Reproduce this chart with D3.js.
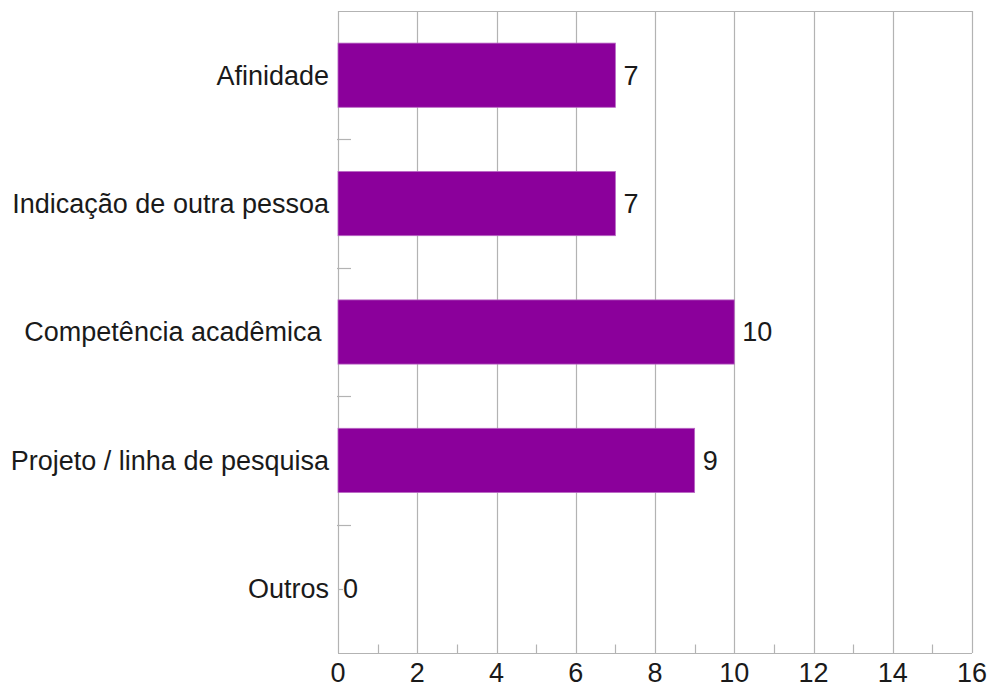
<!DOCTYPE html>
<html>
<head>
<meta charset="utf-8">
<script src="https://cdn.jsdelivr.net/npm/d3@7"></script>
<style>
  html, body { margin: 0; padding: 0; background: #fff; }
  svg { display: block; }
  text { font-family: "Liberation Sans", Arial, sans-serif; fill: #1a1a1a; white-space: pre; }
</style>
</head>
<body>
<svg id="chart" width="992" height="691"></svg>
<script>
// Motivos de escolha do orientador
const categories = ["Afinidade", "Indicação de outra pessoa", "Competência acadêmica ", "Projeto / linha de pesquisa", "Outros"];
const values = [7, 7, 10, 9, 0];
const xTicks = [0, 2, 4, 6, 8, 10, 12, 14, 16];
const xMinorTicks = [1, 3, 5, 7, 9, 11, 13, 15];

const svg = d3.select("#chart");
const margin = { left: 338, right: 20, top: 11, bottom: 38 };
const W = 992, H = 691;
const plotW = W - margin.left - margin.right;
const plotH = H - margin.top - margin.bottom;
const fontSize = 27;

const x = d3.scaleLinear().domain([0, 16]).range([margin.left, margin.left + plotW]);
const y = d3.scaleBand().domain(categories).range([margin.top, margin.top + plotH]).paddingInner(0.5).paddingOuter(0.25);
const yb = d3.scaleBand().domain(categories).range([margin.top, margin.top + plotH]);

const gridColor = "#b3b3b3";
const g = svg.append("g");

// vertical grid lines at the major ticks
g.selectAll("line.grid").data(xTicks).join("line")
  .attr("class", "grid")
  .attr("x1", d => Math.round(x(d)) + 0.5).attr("x2", d => Math.round(x(d)) + 0.5)
  .attr("y1", margin.top).attr("y2", margin.top + plotH)
  .attr("stroke", gridColor).attr("stroke-width", 1.2);

// top border
g.append("line")
  .attr("x1", x(0)).attr("x2", x(16))
  .attr("y1", margin.top + 0.5).attr("y2", margin.top + 0.5)
  .attr("stroke", gridColor).attr("stroke-width", 1.2);

// bottom axis line
const axisY = Math.round(margin.top + plotH) + 0.5;
g.append("line")
  .attr("x1", x(0)).attr("x2", x(16))
  .attr("y1", axisY).attr("y2", axisY)
  .attr("stroke", gridColor).attr("stroke-width", 1.2);

// minor ticks on the x axis, pointing inward
g.selectAll("line.minor").data(xMinorTicks).join("line")
  .attr("x1", d => Math.round(x(d)) + 0.5).attr("x2", d => Math.round(x(d)) + 0.5)
  .attr("y1", axisY - 9).attr("y2", axisY)
  .attr("stroke", gridColor).attr("stroke-width", 1.2);

// category separators on the y axis
const sep = categories.slice(1).map(c => yb(c));
g.selectAll("line.ytick").data(sep).join("line")
  .attr("x1", x(0) - 1).attr("x2", x(0) + 13)
  .attr("y1", d => Math.round(d) + 0.5).attr("y2", d => Math.round(d) + 0.5)
  .attr("stroke", gridColor).attr("stroke-width", 1.2);

// bars
g.selectAll("rect.bar").data(categories).join("rect")
  .attr("class", "bar")
  .attr("x", x(0))
  .attr("y", c => y(c))
  .attr("width", (c, i) => x(values[i]) - x(0))
  .attr("height", y.bandwidth())
  .attr("fill", "#8b009b")
  .attr("stroke", (c, i) => values[i] > 0 ? "#b867c4" : "none")
  .attr("stroke-width", 0.8);

// zero-value marker
categories.forEach((c, i) => {
  if (values[i] === 0) {
    const cy = Math.round(yb(c) + yb.bandwidth() / 2) + 0.5;
    g.append("line").attr("x1", x(0)).attr("x2", x(0) + 5)
      .attr("y1", cy).attr("y2", cy)
      .attr("stroke", gridColor).attr("stroke-width", 1.2);
  }
});

// value labels
g.selectAll("text.val").data(categories).join("text")
  .attr("class", "val")
  .attr("x", (c, i) => x(values[i]) + (values[i] > 0 ? 8 : 5))
  .attr("y", c => yb(c) + yb.bandwidth() / 2)
  .attr("dy", "0.35em")
  .attr("font-size", fontSize)
  .text((c, i) => values[i]);

// category labels
g.selectAll("text.cat").data(categories).join("text")
  .attr("class", "cat")
  .attr("x", x(0) - 9)
  .attr("y", c => yb(c) + yb.bandwidth() / 2)
  .attr("dy", "0.35em")
  .attr("text-anchor", "end")
  .attr("font-size", fontSize)
  .text(c => c);

// x tick labels
g.selectAll("text.xt").data(xTicks).join("text")
  .attr("class", "xt")
  .attr("x", d => x(d))
  .attr("y", axisY + 19)
  .attr("dy", "0.35em")
  .attr("text-anchor", "middle")
  .attr("font-size", fontSize)
  .text(d => d);
</script>
</body>
</html>
